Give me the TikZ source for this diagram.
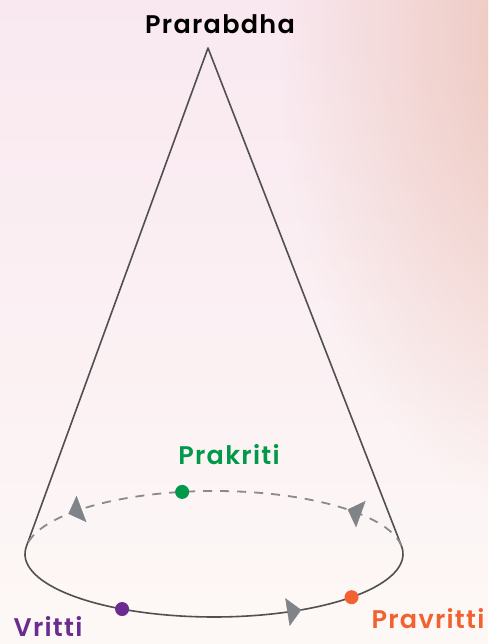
\documentclass[tikz,border=0pt]{standalone}
\usepackage{fontspec}
\usetikzlibrary{arrows.meta,decorations.markings,fadings,calc}
\newfontfamily\lblfont{Poppins SemiBold}[LetterSpace=5]
\definecolor{bgtop}{HTML}{F9E8F0}
\definecolor{bgbot}{HTML}{FDF8F6}
\definecolor{peach}{HTML}{EDC6BC}
\definecolor{linedark}{HTML}{505050}
\definecolor{dashgray}{HTML}{8A8A8A}
\definecolor{arrowgray}{HTML}{808387}
\definecolor{pgreen}{HTML}{00994A}
\definecolor{ppurple}{HTML}{6A2C91}
\definecolor{porange}{HTML}{F26230}
\tikzfading[name=radfade, inner color=transparent!0, outer color=transparent!100]
\tikzset{
  cone/.style={draw=linedark, line width=1.6pt, line join=round},
  backarc/.style={draw=dashgray, line width=1.8pt, dash pattern=on 9pt off 8pt},
  frontarc/.style={draw=linedark, line width=1.6pt},
  dotmark/.style={circle, inner sep=0pt, minimum size=14pt},
  lbl/.style={font=\lblfont\fontsize{25.5}{30}\selectfont, anchor=base, inner sep=0pt},
  flowtip/.style={decoration={markings, mark=at position 1 with {\arrow[arrowgray]{Triangle[length=14pt,width=28pt]}}}, decorate}
}
\begin{document}
\begin{tikzpicture}[x=1pt,y=1pt]
\useasboundingbox (0,0) rectangle (488,644);
% background
\shade[top color=bgtop, bottom color=bgbot] (0,0) rectangle (488,644);
\begin{scope}
\clip (0,0) rectangle (488,644);
\fill[peach, path fading=radfade] (540,600) ellipse[x radius=260, y radius=460];
\end{scope}
% geometry
\coordinate (C) at (214,90);
\coordinate (A) at (208,596);
\coordinate (L) at ($(C)+(172.6:189 and 63)$);
\coordinate (R) at ($(C)+(7.4:189 and 63)$);
% cone sides
\draw[cone] (L) -- (A) -- (R);
% back (dashed) and front (solid) halves of the base
\draw[backarc] (R) arc[start angle=7.4, end angle=172.6, x radius=189, y radius=63];
\draw[frontarc] (L) arc[start angle=172.6, end angle=367.4, x radius=189, y radius=63];
% flow arrows
\path[flowtip] ($(C)+(-66.5:189 and 63)$) -- ($(C)+(-62.5:189 and 63)$);
\path[flowtip] ($(C)+(41:189 and 63)$) -- ($(C)+(45:189 and 63)$);
\path[flowtip] ($(C)+(136.4:189 and 63)$) -- ($(C)+(140.4:189 and 63)$);
% dots
\node[dotmark, fill=pgreen] (dprakriti) at ($(C)+(99.7:189 and 63)$) {};
\node[dotmark, fill=ppurple] (dvritti) at ($(C)+(240.9:189 and 63)$) {};
\node[dotmark, fill=porange] (dpravritti) at ($(C)+(-43.3:189 and 63)$) {};
% labels
\node[lbl, text=black] (tprarabdha) at (220,610) {Prarabdha};
\node[lbl, text=pgreen] (tprakriti) at (229,179) {Prakriti};
\node[lbl, text=ppurple] (tvritti) at (48,8) {Vritti};
\node[lbl, text=porange] (tpravritti) at (428,15) {Pravritti};
\end{tikzpicture}
\end{document}
